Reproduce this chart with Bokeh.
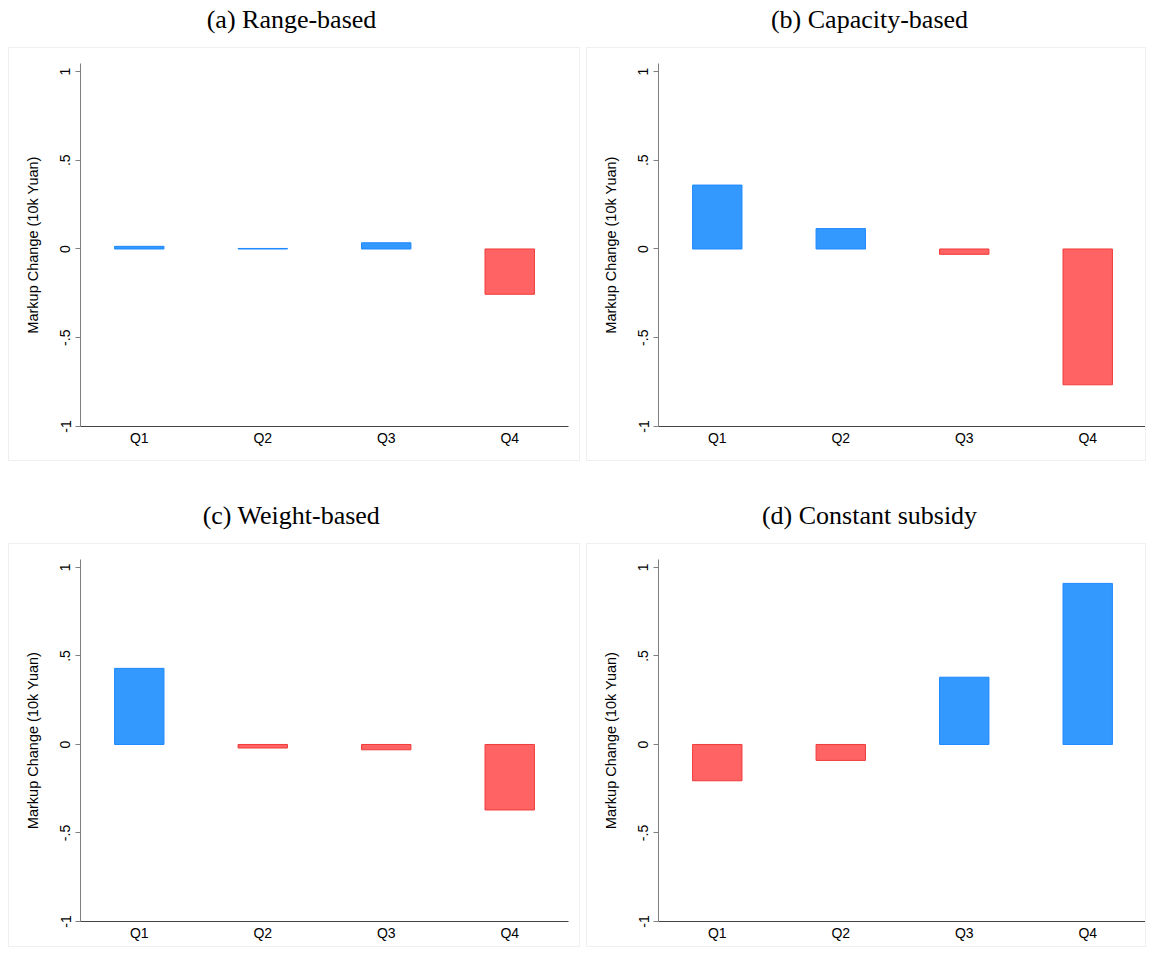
from bokeh.plotting import figure
from bokeh.layouts import column, row
from bokeh.models import Range1d, FixedTicker, ColumnDataSource, Label, Spacer
from bokeh.embed import file_html
from bokeh.resources import INLINE

# ---- data ----
categories = ["Q1", "Q2", "Q3", "Q4"]
panel_titles = ["(a) Range-based", "(b) Capacity-based", "(c) Weight-based", "(d) Constant subsidy"]
range_based = [0.015, 0.003, 0.035, -0.255]
capacity_based = [0.36, 0.115, -0.03, -0.765]
weight_based = [0.43, -0.02, -0.03, -0.37]
constant_subsidy = [-0.205, -0.09, 0.38, 0.91]
y_ticks = [-1.0, -0.5, 0.0, 0.5, 1.0]
y_tick_labels = ["-1", "-.5", "0", ".5", "1"]
y_label = "Markup Change (10k Yuan)"

BLUE_FILL, BLUE_LINE = "#3399FF", "#1E88FF"
RED_FILL, RED_LINE = "#FF6363", "#F03A3A"
SANS = "Liberation Sans"
SERIF = "Liberation Serif"
LEFT_BORDER = 71  # frame offset shared by the aligned title/plot figures


def title_fig(text, width, height, from_top):
    t = figure(width=width, height=height, toolbar_location=None, output_backend="svg",
               x_axis_location=None, y_axis_location=None,
               min_border=0, min_border_left=0, min_border_right=0,
               min_border_top=0, min_border_bottom=0,
               x_range=Range1d(0, 1), y_range=Range1d(0, height))
    t.outline_line_color = None
    t.grid.visible = False
    # the column aligns this figure's frame with the panel's frame (offset LEFT_BORDER)
    t.add_layout(Label(x=283 - LEFT_BORDER, x_units="screen", y=height - from_top, text=text,
                       text_align="center", text_baseline="middle", text_font=SERIF,
                       text_font_size="26px", text_color="black"))
    return t


def panel(values, width, height, mb_right, mb_bottom):
    xs = list(range(1, len(categories) + 1))
    src = ColumnDataSource(dict(
        x=xs, top=values,
        fill=[BLUE_FILL if v >= 0 else RED_FILL for v in values],
        line=[BLUE_LINE if v >= 0 else RED_LINE for v in values],
    ))
    p = figure(width=width, height=height, toolbar_location=None, output_backend="svg",
               x_range=Range1d(0.524, 4.476), y_range=Range1d(-1, 1.045),
               min_border_left=LEFT_BORDER, min_border_right=mb_right,
               min_border_top=15, min_border_bottom=mb_bottom)
    p.styles = {"border": "1px solid #EEF0F0"}
    p.outline_line_color = None
    p.grid.visible = False
    p.vbar(x="x", top="top", bottom=0, width=0.4, source=src,
           fill_color="fill", line_color="line", line_width=1)

    xa = p.xaxis[0]
    xa.ticker = FixedTicker(ticks=xs)
    xa.major_label_overrides = {float(x): c for x, c in zip(xs, categories)}
    xa.major_tick_line_color = None
    xa.major_tick_out = 0
    xa.major_tick_in = 0
    xa.minor_tick_line_color = None
    xa.axis_line_color = "#444444"
    xa.axis_line_width = 1.2
    xa.major_label_text_font = SANS
    xa.major_label_text_font_size = "14px"
    xa.major_label_text_color = "black"
    xa.major_label_standoff = 3

    ya = p.yaxis[0]
    ya.ticker = FixedTicker(ticks=y_ticks)
    ya.major_label_overrides = {float(t): l for t, l in zip(y_ticks, y_tick_labels)}
    ya.minor_tick_line_color = None
    ya.major_tick_in = 0
    ya.major_tick_out = 5
    ya.major_tick_line_color = "#7F7F7F"
    ya.axis_line_color = "#7F7F7F"
    ya.major_label_orientation = "vertical"
    ya.major_label_text_font = SANS
    ya.major_label_text_font_size = "14px"
    ya.major_label_text_color = "black"
    ya.major_label_standoff = 5
    ya.axis_label = y_label
    ya.axis_label_text_font = SANS
    ya.axis_label_text_font_size = "14.5px"
    ya.axis_label_text_font_style = "normal"
    ya.axis_label_text_color = "black"
    ya.axis_label_standoff = 17
    return p


WA, WB = 572, 560
pa = panel(range_based, WA, 414, 13, 36)
pb = panel(capacity_based, WB, 414, 1, 36)
pc = panel(weight_based, WA, 404, 13, 27)
pd = panel(constant_subsidy, WB, 404, 1, 27)

grid = column(
    row(column(title_fig(panel_titles[0], WA, 47, 19), pa, spacing=0),
        column(title_fig(panel_titles[1], WB, 47, 19), pb, spacing=0), spacing=6),
    row(column(title_fig(panel_titles[2], WA, 82, 54), pc, spacing=0),
        column(title_fig(panel_titles[3], WB, 82, 54), pd, spacing=0), spacing=6),
    spacing=0,
)
layout = row(Spacer(width=8), grid, spacing=0)

open("out.html", "w").write(file_html(layout, INLINE))
